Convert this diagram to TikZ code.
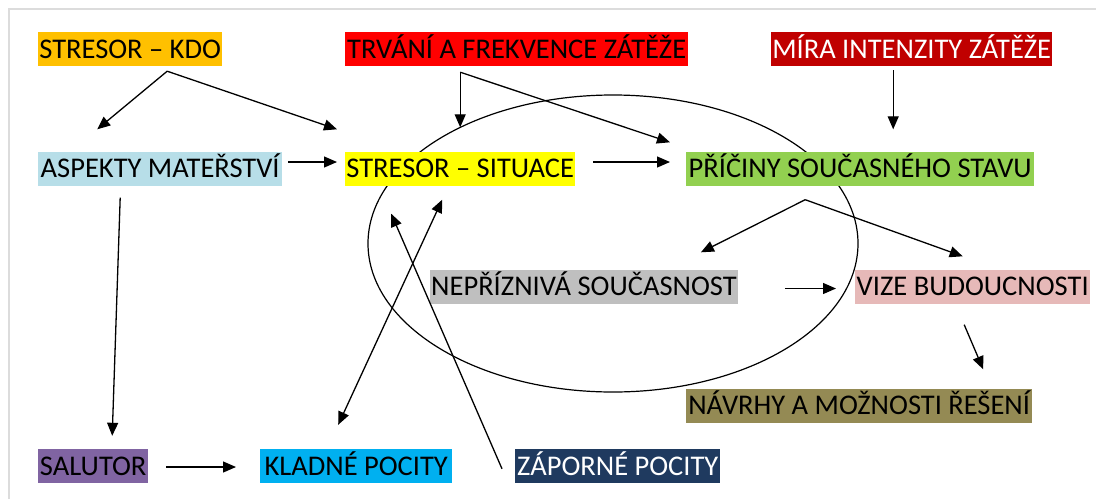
\documentclass[tikz,border=0pt]{standalone}
\usepackage{fontspec}
\setmainfont{Carlito}
\usepackage{xcolor}
\usepackage{tikz}
\usetikzlibrary{arrows.meta, calc}

\definecolor{kdoorange}{HTML}{FFC000}
\definecolor{trvred}{HTML}{FF0000}
\definecolor{miradark}{HTML}{C00000}
\definecolor{aspblue}{HTML}{B7DEE8}
\definecolor{sityellow}{HTML}{FFFF00}
\definecolor{pricgreen}{HTML}{92D050}
\definecolor{nepgray}{HTML}{BFBFBF}
\definecolor{vizepink}{HTML}{E6B9B8}
\definecolor{navolive}{HTML}{948A54}
\definecolor{salpurple}{HTML}{8064A2}
\definecolor{kladcyan}{HTML}{00B0F0}
\definecolor{zapnavy}{HTML}{1F3A5F}
\definecolor{framegray}{HTML}{DCDCDC}

\begin{document}
\begin{tikzpicture}[x=1pt, y=-1pt, >={Triangle[length=13pt, width=11pt]},
    label box/.style 2 args={fill=#1, minimum width=#2, anchor=west,
        inner xsep=1pt, inner ysep=0pt, text height=26.3pt, text depth=7.7pt,
        font=\fontsize{28.5}{34}\selectfont},
    link/.style={->, line width=1.3pt}]
    \useasboundingbox (0,0) rectangle (1096,499);
    % Frame
    \draw[framegray, line width=2pt] (9,499) -- (9,9) -- (1096,9);
    % Ellipse
    \draw[line width=1.2pt] (613,243.5) ellipse [x radius=245, y radius=148.5];
    % Top row
    \node[label box={kdoorange}{184}] (kdo) at (38,49) {STRESOR – KDO};
    \node[label box={trvred}{343}] (trvani) at (345,49) {TRVÁNÍ A FREKVENCE ZÁTĚŽE};
    \node[label box={miradark}{281}, text=white] (mira) at (771,49) {MÍRA INTENZITY ZÁTĚŽE};
    % Middle row
    \node[label box={aspblue}{244}] (aspekty) at (38,168.5) {ASPEKTY MATEŘSTVÍ};
    \node[label box={sityellow}{230}] (situace) at (345,168.5) {STRESOR – SITUACE};
    \node[label box={pricgreen}{348}] (priciny) at (686,168.5) {PŘÍČINY SOUČASNÉHO STAVU};
    \node[label box={nepgray}{306}] (nepr) at (430,286.5) {NEPŘÍZNIVÁ SOUČASNOST};
    \node[label box={vizepink}{235}] (vize) at (855,286.5) {VIZE BUDOUCNOSTI};
    \node[label box={navolive}{346}] (navrhy) at (686,405.5) {NÁVRHY A MOŽNOSTI ŘEŠENÍ};
    % Bottom row
    \node[label box={salpurple}{110}] (salutor) at (38,466) {SALUTOR};
    \node[label box={kladcyan}{192}] (kladne) at (260,466) {KLADNÉ POCITY};
    \node[label box={zapnavy}{205}, text=white] (zaporne) at (515,466) {ZÁPORNÉ POCITY};
    % Arrows from the top row
    \draw[link] ($(kdo.south)+(37,5)$) -- ($(aspekty.north)+(-63,-22)$);
    \draw[link] ($(kdo.south)+(37,5)$) -- ($(situace.north west)+(-8,-22)$);
    \draw[link] ($(trvani.south)+(-56.5,6)$) -- ($(situace.north)+(0,-24)$);
    \draw[link] ($(trvani.south)+(-56.5,6)$) -- ($(priciny.north west)+(-16,-9)$);
    \draw[link] ($(mira.south)+(-18.5,4)$) -- ($(priciny.north)+(33,-22)$);
    % Middle row
    \draw[link] ($(aspekty.east)+(6,-6.5)$) -- ($(situace.west)+(-8,-6.5)$);
    \draw[link] ($(situace.east)+(18,-6.5)$) -- ($(priciny.west)+(-16,-6.5)$);
    \draw[link] ($(priciny.south)+(-55,14)$) -- ($(nepr.north)+(117,-17)$);
    \draw[link] ($(priciny.south)+(-55,14)$) -- ($(vize.north)+(-10,-13)$);
    \draw[link] ($(nepr.east)+(47,2)$) -- ($(vize.west)+(-19,2)$);
    \draw[link] ($(vize.south)+(-8.5,21)$) -- ($(navrhy.north)+(124,-19)$);
    % Down to the bottom row
    \draw[link] ($(aspekty.south)+(-40,12)$) -- ($(salutor.north)+(19,-13)$);
    \draw[link] ($(salutor.east)+(18,1)$) -- ($(kladne.west)+(-24,1)$);
    \draw[link, <->] ($(kladne.north)+(-18,-24)$) -- ($(situace.south)+(-18,14)$);
    \draw[link] ($(zaporne.north west)+(-13,20)$) -- ($(situace.south)+(-69,28)$);
\end{tikzpicture}
\end{document}
